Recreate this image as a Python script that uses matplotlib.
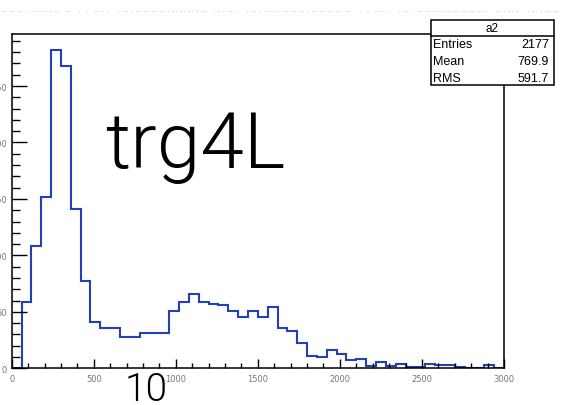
import matplotlib
matplotlib.use("Agg")
import matplotlib.pyplot as plt
from matplotlib.patches import Rectangle
from matplotlib.ticker import MultipleLocator
import numpy as np

# histogram a2: 50 bins of width 60 from 0 to 3000
bin_lo = 0
bin_hi = 3000
bin_w = 60
counts = [0, 59, 108, 152, 282, 268, 141, 77, 41, 36,
          36, 28, 28, 31, 31, 31, 51, 59, 66, 59,
          57, 56, 51, 45, 51, 45, 54, 36, 33, 22,
          11, 10, 16, 13, 7, 8, 2, 6, 2, 4,
          1, 1, 4, 3, 3, 1, 0, 0, 3, 0]

stats_title = "a2"
stats_names = ["Entries", "Mean", "RMS"]
stats_vals = ["2177", "769.9", "591.7"]

label_big = "trg4L"
label_small = "10"

W, H = 563, 406
fig = plt.figure(figsize=(W / 100, H / 100), dpi=100)
ax = fig.add_axes([11.7 / W, 1 - 369.3 / H, (504 - 11.7) / W, (369.3 - 35) / H])

edges = np.arange(bin_lo, bin_hi + bin_w, bin_w)
ax.stairs(counts, edges, color="#2340b4", lw=1.5)

ax.set_xlim(bin_lo, bin_hi)
ax.set_ylim(0, max(counts) * 1.05)

ax.xaxis.set_major_locator(MultipleLocator(500))
ax.xaxis.set_minor_locator(MultipleLocator(100))
ax.yaxis.set_major_locator(MultipleLocator(50))
ax.yaxis.set_minor_locator(MultipleLocator(10))
ax.tick_params(axis="both", which="both", direction="in", top=False, right=False,
               width=1.0, labelsize=6, labelcolor="#777777")
ax.tick_params(axis="y", which="major", length=10.8, pad=3.3)
ax.tick_params(axis="y", which="minor", length=5.8)
ax.tick_params(axis="x", which="major", length=6.5, pad=4)
ax.tick_params(axis="x", which="minor", length=3.6)
for s in ax.spines.values():
    s.set_linewidth(1.1)

# big overlaid labels
bigfont = ["Roboto", "DejaVu Sans"]
fig.text(105 / W, 1 - 168.5 / H, label_big, fontsize=56.5, family=bigfont,
         fontweight=300, color="black", ha="left", va="baseline")
fig.text(125 / W, 1 - 401 / H, label_small, fontsize=28, family=bigfont,
         fontweight=300, color="black", ha="left", va="baseline")

# faint cut-off title row
row = ".. .. .. . .. .. .. ..  ..   .  .  .. . .   . .. . .. .. .. .. . .. .. .. . ..   .. . .. .   . .. . .. .."
fig.text(2 / W, 1 - 9 / H, row + "  " + row, fontsize=6, color="#aaaaaa",
         ha="left", va="center")

# stats box
bx0, bx1, by0, by1, bsep = 431, 554, 21, 86, 37
fig.add_artist(Rectangle((bx0 / W, 1 - by1 / H), (bx1 - bx0) / W, (by1 - by0) / H,
                         transform=fig.transFigure, fill=True, facecolor="white",
                         edgecolor="black", lw=1.1))
fig.add_artist(plt.Line2D([bx0 / W, bx1 / W], [1 - bsep / H, 1 - bsep / H],
                          transform=fig.transFigure, color="black", lw=1.1))
sfont = ["Liberation Sans Narrow", "Liberation Sans", "DejaVu Sans"]
fig.text((bx0 + bx1) / 2 / W, 1 - 29 / H, stats_title, fontsize=8.5, family=sfont,
         ha="center", va="center")
for i, (n, v) in enumerate(zip(stats_names, stats_vals)):
    yy = 1 - (45 + 17 * i) / H
    fig.text(433 / W, yy, n, fontsize=9, family=sfont, ha="left", va="center")
    fig.text(549 / W, yy, v, fontsize=9, family=sfont, ha="right", va="center")

fig.savefig("out.png", dpi=100)
